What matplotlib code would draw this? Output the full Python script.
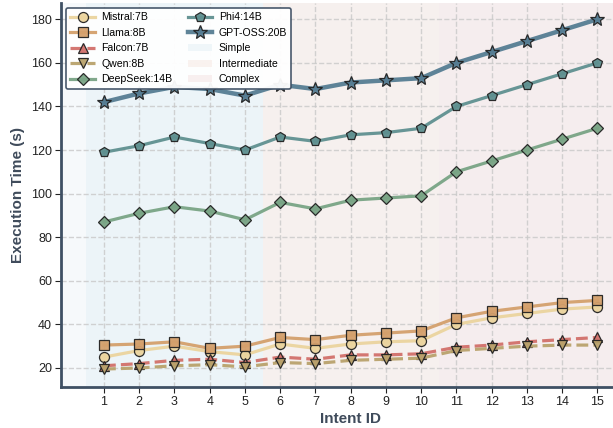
import matplotlib.pyplot as plt
import numpy as np

plt.rcParams['font.family'] = ['Liberation Sans', 'DejaVu Sans']

intent_ids = np.arange(1, 16)

mistral = [25, 28, 30, 27.5, 26, 31, 29, 31, 32, 32.5, 40, 43, 45, 47, 48]
llama = [30.5, 31, 32, 29, 30, 34, 33, 35, 36, 37, 43, 46, 48, 50, 51]
falcon = [21, 22, 23.5, 24, 22.5, 25, 24, 26, 26, 26.5, 29.5, 30.5, 32, 33, 34]
qwen = [19.5, 20, 21, 21.5, 20.5, 22.5, 22, 23.5, 24, 24.5, 28, 29, 30, 30.5, 30.5]
deepseek = [87, 91, 94, 92, 88, 96, 93, 97, 98, 99, 110, 115, 120, 125, 130]
phi4 = [119, 122, 126, 123, 120, 126, 124, 127, 128, 130, 140, 145, 150, 155, 160]
gpt_oss = [142, 146, 149, 148, 145, 150, 148, 151, 152, 153, 160, 165, 170, 175, 180]

series = [
    ("Mistral:7B", mistral, "#EBD49E", "o", "-", 2.3),
    ("Llama:8B", llama, "#D4A06C", "s", "-", 2.3),
    ("Falcon:7B", falcon, "#D2706A", "^", "--", 2.3),
    ("Qwen:8B", qwen, "#B9A26C", "v", "--", 2.3),
    ("DeepSeek:14B", deepseek, "#79A485", "D", "-", 2.3),
    ("Phi4:14B", phi4, "#5F9090", "p", "-", 2.3),
    ("GPT-OSS:20B", gpt_oss, "#567D93", "*", "-", 3.2),
]

spans = [("Simple", 0.5, 5.5, "#e6f2f6"), ("Intermediate", 5.5, 10.5, "#f7ebe6"),
         ("Complex", 10.5, 15.5, "#f5e6e6")]

fig = plt.figure(figsize=(6.13, 4.28), dpi=100)
# axes runs past the right edge, as in the cropped original
ax = fig.add_axes([0.0995, 0.096, 0.945, 0.897])
ax.set_facecolor("#f6f9fb")

for name, a, b, c in spans:
    ax.axvspan(a, b, color=c, alpha=0.6, lw=0, label=name, zorder=0)

ax.grid(True, ls="--", color="#c8c8c8", lw=1, alpha=0.8, zorder=1)

for name, vals, col, mk, ls, lw in series:
    ms = 10 if mk == "*" else (6.5 if mk in ("D", "^", "v") else 7.2)
    ax.plot(intent_ids, vals, color=col, ls=ls, lw=lw, marker=mk, ms=ms,
            markerfacecolor=col, markeredgecolor="#222222", markeredgewidth=0.9,
            label=name, zorder=3, alpha=0.95)

ax.set_xlim(-0.22, 16.22)
ax.set_ylim(11.3, 187.5)
ax.set_xticks(intent_ids)
ax.set_yticks(np.arange(20, 181, 20))
ax.tick_params(labelsize=9, colors="#222222", length=4, pad=2.5)

for s in ["top", "right"]:
    ax.spines[s].set_visible(False)
for s in ["left", "bottom"]:
    ax.spines[s].set_color("#3f5064")
    ax.spines[s].set_linewidth(2)

ax.set_xlabel("Intent ID", fontsize=11, fontweight="bold", color="#3f4b5b", labelpad=3)
ax.set_ylabel("Execution Time (s)", fontsize=11, fontweight="bold", color="#3f4b5b", labelpad=4)

handles, labels = ax.get_legend_handles_labels()
order = [3, 4, 5, 6, 7, 8, 9, 0, 1, 2]
leg = ax.legend([handles[i] for i in order], [labels[i] for i in order],
                loc="upper left", ncol=2, fontsize=7.6, frameon=True,
                edgecolor="#3f5064", framealpha=0.95, borderpad=0.4,
                labelspacing=0.52, handlelength=2.3, columnspacing=1.5,
                handletextpad=0.6, bbox_to_anchor=(0.0, 1.0))
leg.get_frame().set_linewidth(1.2)

fig.savefig("out.png", dpi=100)
